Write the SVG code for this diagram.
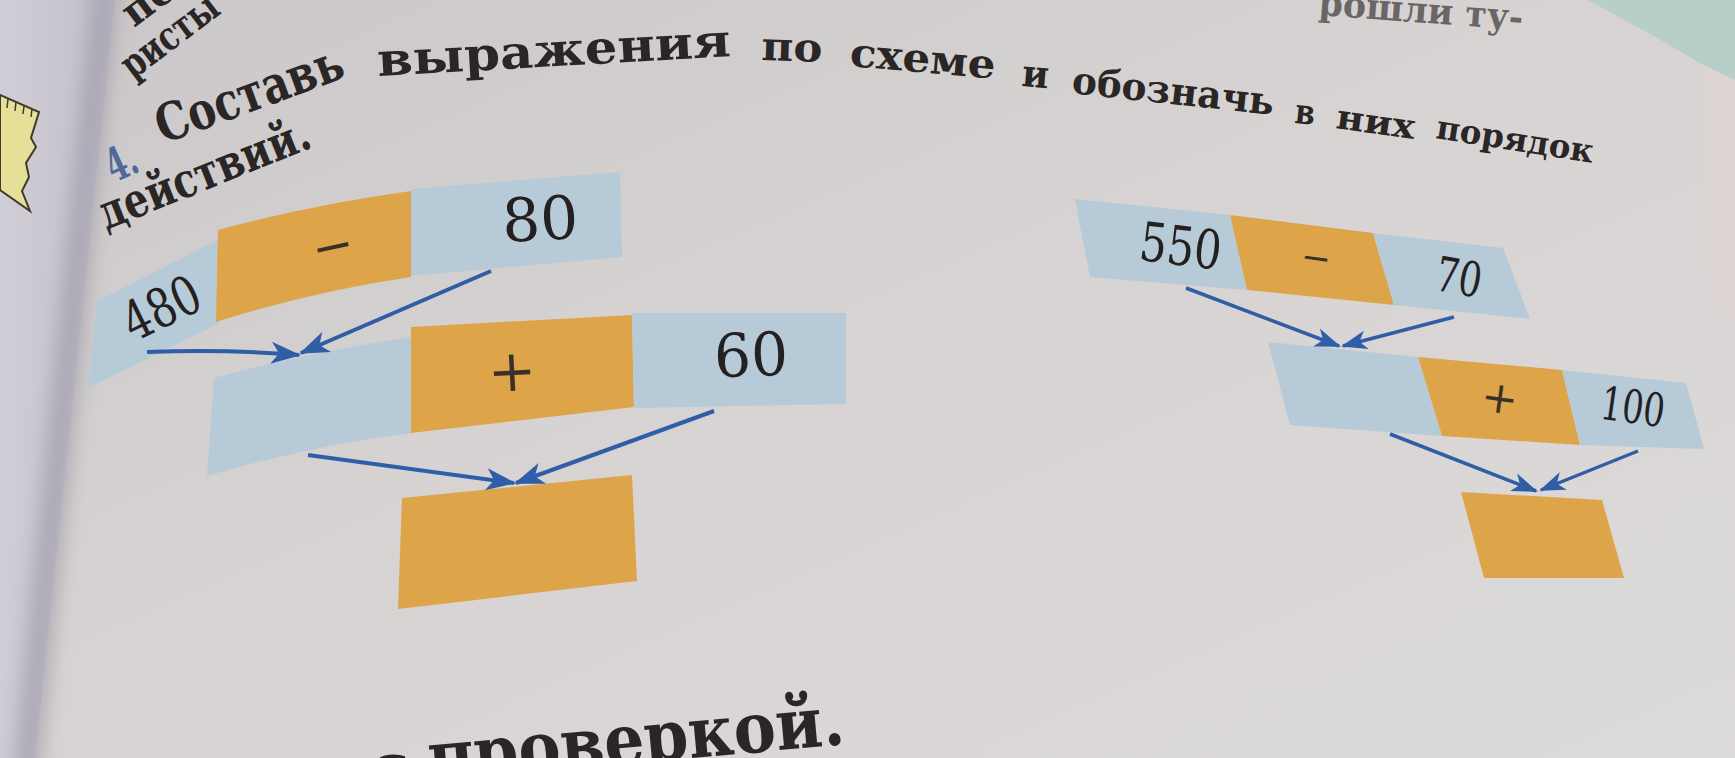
<svg xmlns="http://www.w3.org/2000/svg" width="1735" height="758" viewBox="0 0 1735 758">
<defs>
<linearGradient id="page" x1="0" y1="0" x2="1" y2="1">
<stop offset="0" stop-color="#cbc7c9"/>
<stop offset="0.45" stop-color="#d6d3d2"/>
<stop offset="1" stop-color="#dddbda"/>
</linearGradient>
<linearGradient id="lpage" x1="0" y1="0" x2="1" y2="0">
<stop offset="0" stop-color="#d0cdd6"/>
<stop offset="1" stop-color="#c3c0cb"/>
</linearGradient>
<filter id="blur" x="-50%" y="-10%" width="200%" height="120%"><feGaussianBlur stdDeviation="10"/></filter>
<marker id="ah" viewBox="-32 -13 36 26" refX="0" refY="0" markerWidth="36" markerHeight="26" markerUnits="userSpaceOnUse" orient="auto">
<path d="M2,0 L-28,-11 L-20,0 L-28,11 Z" fill="#2f5ea6"/>
</marker>
<marker id="ahs" viewBox="-28 -11 32 22" refX="0" refY="0" markerWidth="32" markerHeight="22" markerUnits="userSpaceOnUse" orient="auto">
<path d="M2,0 L-24,-9.5 L-17,0 L-24,9.5 Z" fill="#2f5ea6"/>
</marker>
</defs>
<style>
.blue{fill:#b6cad8}
.org{fill:#dea449}
.conn{stroke:#2f5ea6;stroke-width:4;fill:none;marker-end:url(#ah)}
.conns{stroke:#2f5ea6;stroke-width:3.5;fill:none;marker-end:url(#ahs)}
.num{font-family:"DejaVu Serif",serif;fill:#24201f;text-anchor:middle}
.op{font-family:"DejaVu Serif",serif;fill:#3a302a;text-anchor:middle}
.hd{font-family:"DejaVu Serif",serif;font-weight:bold;fill:#2a2625}
.faint{font-family:"DejaVu Serif",serif;font-weight:bold;fill:#6a6665}
</style>

<rect x="0" y="0" width="1735" height="758" fill="url(#page)"/>
<!-- left page -->
<polygon points="0,0 115,0 35,758 0,758" fill="url(#lpage)"/>
<line x1="106" y1="-20" x2="26" y2="780" stroke="#9e9aa8" stroke-width="24" filter="url(#blur)" opacity="0.75"/>
<!-- yellow drawing on the left page -->
<path d="M0,95 L39,112 L31,138 L36,147 L26,163 L29,177 L22,191 L30,211 L0,190 Z" fill="#e6df98" stroke="#3f3b2a" stroke-width="2"/>
<path d="M8,99 L7,108 M16,102 L15,111 M24,106 L23,114 M32,109 L31,117" stroke="#3f3b2a" stroke-width="1.5"/>
<!-- mint object top right -->
<polygon points="1588,0 1735,0 1735,80 1705,66 1650,34" fill="#b8cfc9"/>
<polygon points="1705,66 1735,80 1735,320 1712,300" fill="#dcd5d2"/>

<!-- text -->
<text class="hd" x="134" y="28" font-size="40" transform="rotate(-37 134 28)">пе</text>
<text class="hd" x="133" y="80" font-size="40" textLength="112" lengthAdjust="spacingAndGlyphs" transform="rotate(-37 133 80)">ристы</text>
<text class="faint" x="1318" y="15" font-size="36" textLength="205" lengthAdjust="spacingAndGlyphs" transform="rotate(4.2 1318 15)">рошли ту-</text>

<text x="114" y="183" font-family="DejaVu Serif, serif" font-weight="bold" font-size="46" fill="#51689a" textLength="30" lengthAdjust="spacingAndGlyphs" transform="rotate(-24 114 183)">4.</text>
<text class="hd" x="163" y="144" font-size="52" textLength="196" lengthAdjust="spacingAndGlyphs" transform="rotate(-20 163 144)">Составь</text>
<text class="hd" x="378" y="76" font-size="46" textLength="354" lengthAdjust="spacingAndGlyphs" transform="rotate(-3.2 378 76)">выражения</text>
<text class="hd" x="761" y="60" font-size="40" textLength="61" lengthAdjust="spacingAndGlyphs" transform="rotate(2 761 60)">по</text>
<text class="hd" x="849" y="66" font-size="40" textLength="146" lengthAdjust="spacingAndGlyphs" transform="rotate(5 849 66)">схеме</text>
<text class="hd" x="1021" y="86" font-size="38" textLength="27" lengthAdjust="spacingAndGlyphs" transform="rotate(5 1021 86)">и</text>
<text class="hd" x="1071" y="93" font-size="38" textLength="203" lengthAdjust="spacingAndGlyphs" transform="rotate(6.2 1071 93)">обозначь</text>
<text class="hd" x="1294" y="123" font-size="35" textLength="20" lengthAdjust="spacingAndGlyphs" transform="rotate(6 1294 123)">в</text>
<text class="hd" x="1335" y="128" font-size="34" textLength="79" lengthAdjust="spacingAndGlyphs" transform="rotate(8 1335 128)">них</text>
<text class="hd" x="1435" y="138" font-size="33" textLength="159" lengthAdjust="spacingAndGlyphs" transform="rotate(9 1435 138)" fill="#4a4645">порядок</text>
<text class="hd" x="106" y="230" font-size="48" textLength="224" lengthAdjust="spacingAndGlyphs" transform="rotate(-21.8 106 230)">действий.</text>

<text class="hd" x="370" y="794" font-size="70" transform="rotate(-5.2 370 794)">с</text>
<text class="hd" x="430" y="782" font-size="70" textLength="418" lengthAdjust="spacingAndGlyphs" transform="rotate(-5.2 430 782)">проверкой.</text>

<!-- left diagram -->
<g id="n480">
<polygon class="blue" points="97,301 218,240 218,324 88,388"/>
<text class="num" x="161" y="327" font-size="54" textLength="80" lengthAdjust="spacingAndGlyphs" transform="rotate(-26 161 307)">480</text>
</g>
<g id="nminus1">
<path class="org" d="M218,230 Q310,205 411,191 L411,277 Q310,292 216,322 Z"/>
<text class="op" x="333" y="263" font-size="50" transform="rotate(-12 333 247)">−</text>
</g>
<g id="n80">
<polygon class="blue" points="411,189 620,172 622,257 411,276"/>
<text class="num" x="540" y="240" font-size="60" textLength="76" lengthAdjust="spacingAndGlyphs" transform="rotate(-3 540 218)">80</text>
</g>
<g id="nres1">
<path class="blue" d="M214,378 Q310,352 411,337 L411,433 Q300,448 207,476 Z"/>
</g>
<g id="nplus1">
<polygon class="org" points="411,327 632,315 634,407 411,433"/>
<text class="op" x="512" y="391" font-size="58" transform="rotate(-3 512 370)">+</text>
</g>
<g id="n60">
<polygon class="blue" points="632,313 846,313 846,404 634,408"/>
<text class="num" x="751" y="376" font-size="60" textLength="74" lengthAdjust="spacingAndGlyphs" transform="rotate(-2 751 354)">60</text>
</g>
<g id="nres2">
<polygon class="org" points="402,498 632,475 637,581 398,609"/>
</g>

<!-- right diagram -->
<g id="n550">
<polygon class="blue" points="1075,199 1230,215 1247,290 1090,277"/>
<text class="num" x="1181" y="265" font-size="54" textLength="82" lengthAdjust="spacingAndGlyphs" transform="rotate(7 1181 245)">550</text>
</g>
<g id="nminus2">
<polygon class="org" points="1230,215 1373,233 1394,305 1247,290"/>
<text class="op" x="1316" y="270" font-size="36" transform="rotate(8 1316 258)">−</text>
</g>
<g id="n70">
<polygon class="blue" points="1373,233 1503,248 1530,319 1394,305"/>
<text class="num" x="1459" y="294" font-size="48" textLength="46" lengthAdjust="spacingAndGlyphs" transform="rotate(10 1459 277)">70</text>
</g>
<g id="nres3">
<polygon class="blue" points="1268,342 1418,357 1442,436 1290,425"/>
</g>
<g id="nplus2">
<polygon class="org" points="1418,357 1562,370 1580,445 1442,436"/>
<text class="op" x="1500" y="413" font-size="44" transform="rotate(8 1500 397)">+</text>
</g>
<g id="n100">
<polygon class="blue" points="1562,370 1686,383 1704,449 1580,445"/>
<text class="num" x="1633" y="423" font-size="46" textLength="64" lengthAdjust="spacingAndGlyphs" transform="rotate(8 1633 407)">100</text>
</g>
<g id="nres4">
<polygon class="org" points="1461,492 1602,500 1624,578 1484,578"/>
</g>

<g id="connectors">
<path class="conn" d="M147,352 Q225,349 299,355"/>
<path class="conn" d="M491,271 L301,353"/>
<path class="conn" d="M308,455 L514,483"/>
<path class="conn" d="M714,411 L516,483"/>
<path class="conns" d="M1186,288 L1339,346"/>
<path class="conns" d="M1454,317 L1343,346"/>
<path class="conns" d="M1390,434 L1536,491"/>
<path class="conns" d="M1638,451 L1541,490"/>
</g>
</svg>
